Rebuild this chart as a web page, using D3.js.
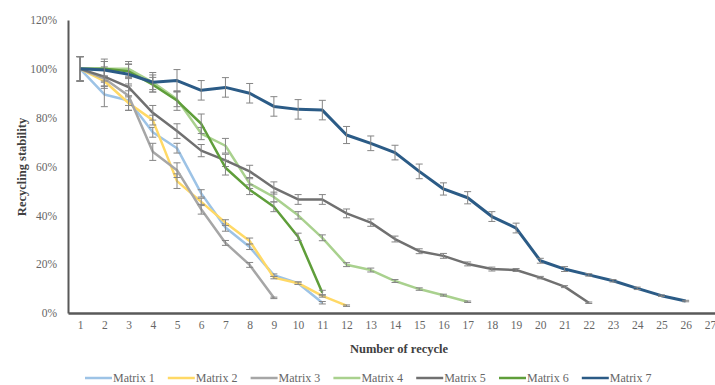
<!DOCTYPE html>
<html>
<head>
<meta charset="utf-8">
<script src="https://cdn.jsdelivr.net/npm/d3@7"></script>
<style>
  body { margin: 0; background: #fff; }
</style>
</head>
<body>
<svg class="svg" width="715" height="385"></svg>
<script>
// recycle numbers on the x axis
const cycles = d3.range(1, 28);
const yTicks = [0, 20, 40, 60, 80, 100, 120];
const names = ['Matrix 1', 'Matrix 2', 'Matrix 3', 'Matrix 4', 'Matrix 5', 'Matrix 6', 'Matrix 7'];
const colors = ['#9dc3e6', '#ffd966', '#a6a6a6', '#a9d18e', '#707070', '#5f9e3a', '#2b5b86'];

// recycling stability (%) per cycle, and the error bar half-heights
const matrix1 = [100, 89.5, 87, 74, 67.5, 49, 35, 27, 15.5, 12.2, 4.2];
const matrix2 = [100, 95, 86, 79, 54, 45.5, 37, 29.5, 14.5, 12.2, 7, 3];
const matrix3 = [100, 96, 89, 66, 58.5, 42.5, 28.7, 19.7, 6.2];
const matrix4 = [100, 100, 100, 94.5, 87.5, 73.5, 68.5, 53, 47.5, 40, 30.8, 19.8, 17.6, 13.1, 9.8, 7.3, 4.6];
const matrix5 = [100, 96.8, 92.5, 82, 74.5, 66.5, 62.5, 58, 51.2, 46.5, 46.5, 40.8, 37, 30.3, 25.3, 23.4, 20.1, 18, 17.6, 14.5, 10.8, 4.2];
const matrix6 = [100, 100, 99, 93.5, 87, 77.5, 59.5, 50.5, 43.5, 31.2, 8.3];
const matrix7 = [100, 99.5, 97.8, 94.5, 95.2, 91.2, 92.4, 90, 84.6, 83.4, 83.1, 72.9, 69.5, 65.7, 58, 50.8, 47.2, 39.5, 34.8, 21.4, 18, 15.6, 13.2, 10.1, 7.1, 4.9];

const err1 = [5, 5, 4, 2, 2, 1.5, 1.5, 1, 0.5, 0.5, 0.5];
const err2 = [5, 2, 3, 2, 3, 1.5, 1.2, 1.2, 0.5, 0.5, 0.5, 0.3];
const err3 = [5, 4, 4, 3.5, 3, 2, 1, 1, 0.3];
const err4 = [5, 3, 3, 3, 3, 2.5, 3, 2, 2, 1.5, 1.2, 0.8, 0.8, 0.6, 0.5, 0.4, 0.3];
const err5 = [5, 4, 4, 3, 3, 2.5, 2.5, 2.5, 2.5, 2, 2, 1.8, 1.5, 1.2, 1, 1, 0.8, 0.8, 0.6, 0.5, 0.4, 0.3];
const err6 = [5, 3, 3, 3, 4, 4, 3, 2, 2, 1.5, 1];
const err7 = [5, 4.5, 4, 4, 4.5, 4, 4, 4, 4, 4, 4, 3.5, 3, 3, 3, 2.5, 2.5, 2, 2, 1, 1, 0.5, 0.5, 0.5, 0.3, 0.3];

const values = [matrix1, matrix2, matrix3, matrix4, matrix5, matrix6, matrix7];
const errors = [err1, err2, err3, err4, err5, err6, err7];

const serif = '"Liberation Serif", "Times New Roman", serif';
const svg = d3.select('.svg').attr('font-family', serif);
const plotLeft = 68, plotTop = 20, plotBottom = 313, plotRight = 722;

const x = d3.scalePoint().domain(cycles).range([plotLeft, plotRight]).padding(0.5);
const y = d3.scaleLinear().domain([0, 120]).range([plotBottom, plotTop]);

// y axis
const yAxis = svg.append('g')
  .attr('transform', `translate(${plotLeft},0)`)
  .call(d3.axisLeft(y).tickValues(yTicks).tickSize(0).tickPadding(11).tickFormat(d => d + '%'))
  .attr('font-family', serif);
yAxis.select('.domain').attr('stroke', '#595959').attr('stroke-width', 2);
yAxis.selectAll('text').attr('fill', '#666').style('font-size', '11.5px');

// x axis
const xAxis = svg.append('g')
  .attr('transform', `translate(0,${plotBottom})`)
  .call(d3.axisBottom(x).tickSize(0).tickPadding(8))
  .attr('font-family', serif);
xAxis.select('.domain').attr('stroke', '#595959').attr('stroke-width', 2.5);
xAxis.selectAll('text').attr('fill', '#666').style('font-size', '11.5px');

const line = d3.line()
  .x((d, i) => x(i + 1))
  .y(d => y(d));

values.forEach((vals, k) => {
  svg.append('path')
    .datum(vals)
    .attr('d', line)
    .attr('fill', 'none')
    .attr('stroke', colors[k])
    .attr('stroke-width', k === 6 ? 3 : 2.5)
    .attr('stroke-linejoin', 'round');

  const eb = svg.append('g').attr('stroke', '#858585').attr('stroke-width', 1);
  vals.forEach((v, i) => {
    const e = errors[k][i];
    const cx = x(i + 1);
    eb.append('line').attr('x1', cx).attr('x2', cx).attr('y1', y(v + e)).attr('y2', y(v - e));
    eb.append('line').attr('x1', cx - 3.5).attr('x2', cx + 3.5).attr('y1', y(v + e)).attr('y2', y(v + e));
    eb.append('line').attr('x1', cx - 3.5).attr('x2', cx + 3.5).attr('y1', y(v - e)).attr('y2', y(v - e));
  });
});

// titles
svg.append('text')
  .attr('x', 399).attr('y', 353)
  .attr('text-anchor', 'middle')
  .attr('font-weight', 'bold')
  .attr('fill', '#404040')
  .style('font-size', '12.5px')
  .text('Number of recycle');

svg.append('text')
  .attr('transform', 'translate(26,167) rotate(-90)')
  .attr('text-anchor', 'middle')
  .attr('font-weight', 'bold')
  .attr('fill', '#404040')
  .style('font-size', '12.5px')
  .text('Recycling stability');

// legend
const legend = svg.append('g');
names.forEach((n, k) => {
  const lx = 85 + k * 82.8;
  legend.append('line')
    .attr('x1', lx).attr('x2', lx + 27)
    .attr('y1', 378).attr('y2', 378)
    .attr('stroke', colors[k]).attr('stroke-width', 2.5);
  legend.append('text')
    .attr('x', lx + 28).attr('y', 382)
    .attr('fill', '#666')
    .style('font-size', '12px')
    .text(n);
});
</script>
</body>
</html>
